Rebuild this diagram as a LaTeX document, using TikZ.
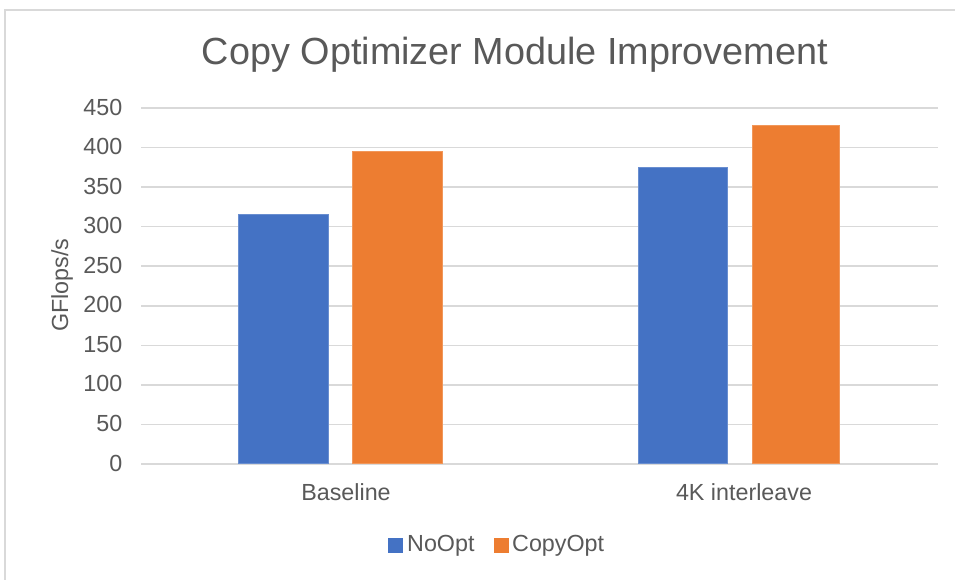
\documentclass[tikz,border=0pt]{standalone}
\usepackage{fontspec}
\setmainfont{Liberation Sans}
\definecolor{txtgray}{HTML}{595959}
\definecolor{gridgray}{HTML}{D9D9D9}
\definecolor{framegray}{HTML}{D9D9D9}
\definecolor{barblue}{HTML}{4472C4}
\definecolor{barorange}{HTML}{ED7D31}
\tikzset{
  labelfont/.style={text=txtgray, font=\fontsize{23.3}{27}\selectfont},
  gridline/.style={draw=gridgray, line width=1.5pt},
  ticklabel/.style={labelfont, anchor=east, inner sep=0pt},
  catlabel/.style={labelfont, inner sep=0pt},
  legendtext/.style={labelfont, anchor=west, inner sep=0pt},
  noopt/.style={fill=barblue, draw=barblue!80!white, line width=0.8pt},
  copyopt/.style={fill=barorange, draw=barorange!80!white, line width=0.8pt},
}
\begin{document}
\begin{tikzpicture}[x=1pt, y=-1pt]
  \useasboundingbox (0,0) rectangle (955,580);
  \fill[white] (0,0) rectangle (955,580);
  % chart frame (top and left edges visible)
  \draw[draw=framegray, line width=2pt] (5,580) -- (5,10) -- (955,10);

  % title
  \node[text=txtgray, font=\fontsize{37.8}{42}\selectfont, inner sep=0pt] (title) at (515,54.5) {Copy Optimizer Module Improvement};

  % horizontal gridlines and value labels, 0..450 step 50
  \foreach \v [count=\i] in {0,50,...,450} {
    \pgfmathsetmacro{\yy}{464 - \v*0.7911}
    \draw[gridline] (141,\yy) -- (938,\yy);
    \node[ticklabel] (tick\i) at (122.5,\yy-1) {\v};
  }

  % axis title
  \node[labelfont, rotate=90, inner sep=0pt] (ytitle) at (62,285) {GFlops/s};

  % bars (value v -> top at 464 - 0.7911 v)
  \pgfmathsetmacro{\ya}{464 - 316*0.7911}
  \pgfmathsetmacro{\yb}{464 - 395*0.7911}
  \pgfmathsetmacro{\yc}{464 - 375*0.7911}
  \pgfmathsetmacro{\yd}{464 - 428*0.7911}
  \draw[noopt]   (238.5,463) rectangle (328.5,\ya);
  \draw[copyopt] (352.5,463) rectangle (442,\yb);
  \draw[noopt]   (638,463) rectangle (727.5,\yc);
  \draw[copyopt] (752,463) rectangle (839.5,\yd);

  % category labels
  \node[catlabel] (catA) at (346,492) {Baseline};
  \node[catlabel] (catB) at (744,492) {4K interleave};

  % legend
  \fill[barblue]   (388,538) rectangle (403,553);
  \node[legendtext] (legA) at (407,545.5) {NoOpt};
  \fill[barorange] (494,538) rectangle (509,553);
  \node[legendtext] (legB) at (512,545.5) {CopyOpt};
\end{tikzpicture}
\end{document}
